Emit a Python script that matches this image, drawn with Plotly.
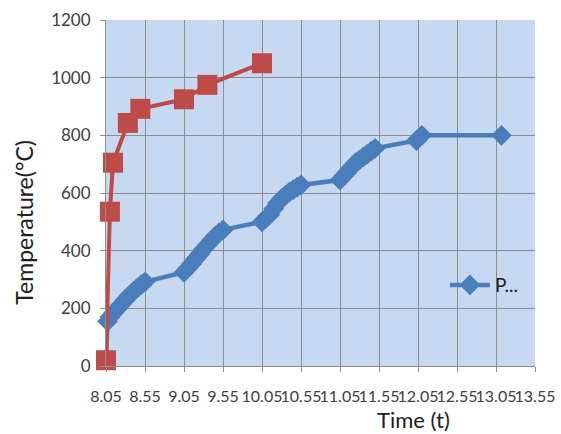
import plotly.graph_objects as go

# Heating curve "P..." (blue diamonds)
p_time = [8.05, 8.07, 8.10, 8.15, 8.20, 8.25, 8.30, 8.35, 8.40, 8.45, 8.50, 8.55,
          9.05, 9.10, 9.15, 9.20, 9.25, 9.30, 9.35, 9.40, 9.45, 9.50, 9.55,
          10.05, 10.10, 10.15, 10.20, 10.25, 10.30, 10.35, 10.40, 10.45, 10.50, 10.55,
          11.05, 11.10, 11.15, 11.20, 11.25, 11.30, 11.35, 11.40, 11.45, 11.50,
          12.03, 12.10, 13.12]
p_temp = [25, 155, 170, 185, 200, 215, 230, 245, 258, 270, 282, 292,
          325, 340, 355, 372, 388, 405, 420, 435, 450, 462, 472,
          500, 512, 525, 545, 565, 580, 592, 603, 612, 620, 628,
          645, 660, 675, 690, 705, 715, 725, 735, 745, 755,
          782, 800, 800]

# Second heating curve (red squares)
r_time = [8.05, 8.10, 8.14, 8.33, 8.49, 9.05, 9.35, 10.05]
r_temp = [20, 535, 705, 843, 892, 925, 975, 1050]

x_tick_labels = ["8.05", "8.55", "9.05", "9.55", "10.05", "10.55", "11.05",
                 "11.55", "12.05", "12.55", "13.05", "13.55"]
x_tick_values = [float(t) for t in x_tick_labels]

BLUE = "#4A7EBB"
RED = "#BE4B48"
GRID = "#8E8E8E"
FONT = "Lato"

fig = go.Figure()

fig.add_trace(go.Scatter(
    x=p_time, y=p_temp, name="P...", mode="lines+markers",
    line=dict(color=BLUE, width=4.5),
    marker=dict(symbol="diamond", size=16, color=BLUE),
    cliponaxis=False,
))

fig.add_trace(go.Scatter(
    x=r_time, y=r_temp, name="", mode="lines+markers", showlegend=False,
    line=dict(color=RED, width=4),
    marker=dict(symbol="square", size=20, color=RED),
    cliponaxis=False,
))

fig.update_layout(
    width=561, height=434,
    margin=dict(l=106, r=26, t=20, b=68),
    paper_bgcolor="white",
    plot_bgcolor="#C6D9F1",
    font=dict(family=FONT, size=17, color="#404040"),
    showlegend=True,
    legend=dict(
        x=0.79, y=0.234, xanchor="left", yanchor="middle",
        bgcolor="rgba(0,0,0,0)", font=dict(size=19, color="#202020"),
        itemwidth=40,
    ),
    annotations=[
        dict(text="Time (t)", x=0.716, y=-0.156, xref="paper", yref="paper",
             xanchor="center", yanchor="middle", showarrow=False,
             font=dict(size=22, color="#202020")),
        dict(text="Temperature(°C)", x=-0.192, y=0.416, xref="paper", yref="paper",
             xanchor="center", yanchor="middle", showarrow=False, textangle=-90,
             font=dict(size=23, color="#202020")),
    ],
)

fig.update_xaxes(
    range=[8.05, 13.55], tickmode="array",
    tickvals=x_tick_values, ticktext=x_tick_labels, tickangle=0,
    tickfont=dict(size=16),
    showgrid=True, gridcolor=GRID, gridwidth=1,
    showline=True, linecolor=GRID, linewidth=1,
    ticks="outside", ticklen=5, tickcolor=GRID,
    ticklabelstandoff=11, zeroline=False, automargin=False,
)

fig.update_yaxes(
    range=[0, 1200], dtick=200,
    showgrid=True, gridcolor=GRID, gridwidth=1,
    showline=True, linecolor=GRID, linewidth=1,
    ticks="outside", ticklen=5, tickcolor=GRID,
    ticklabelstandoff=6, zeroline=False, automargin=False,
)

fig.write_html("out.html")
